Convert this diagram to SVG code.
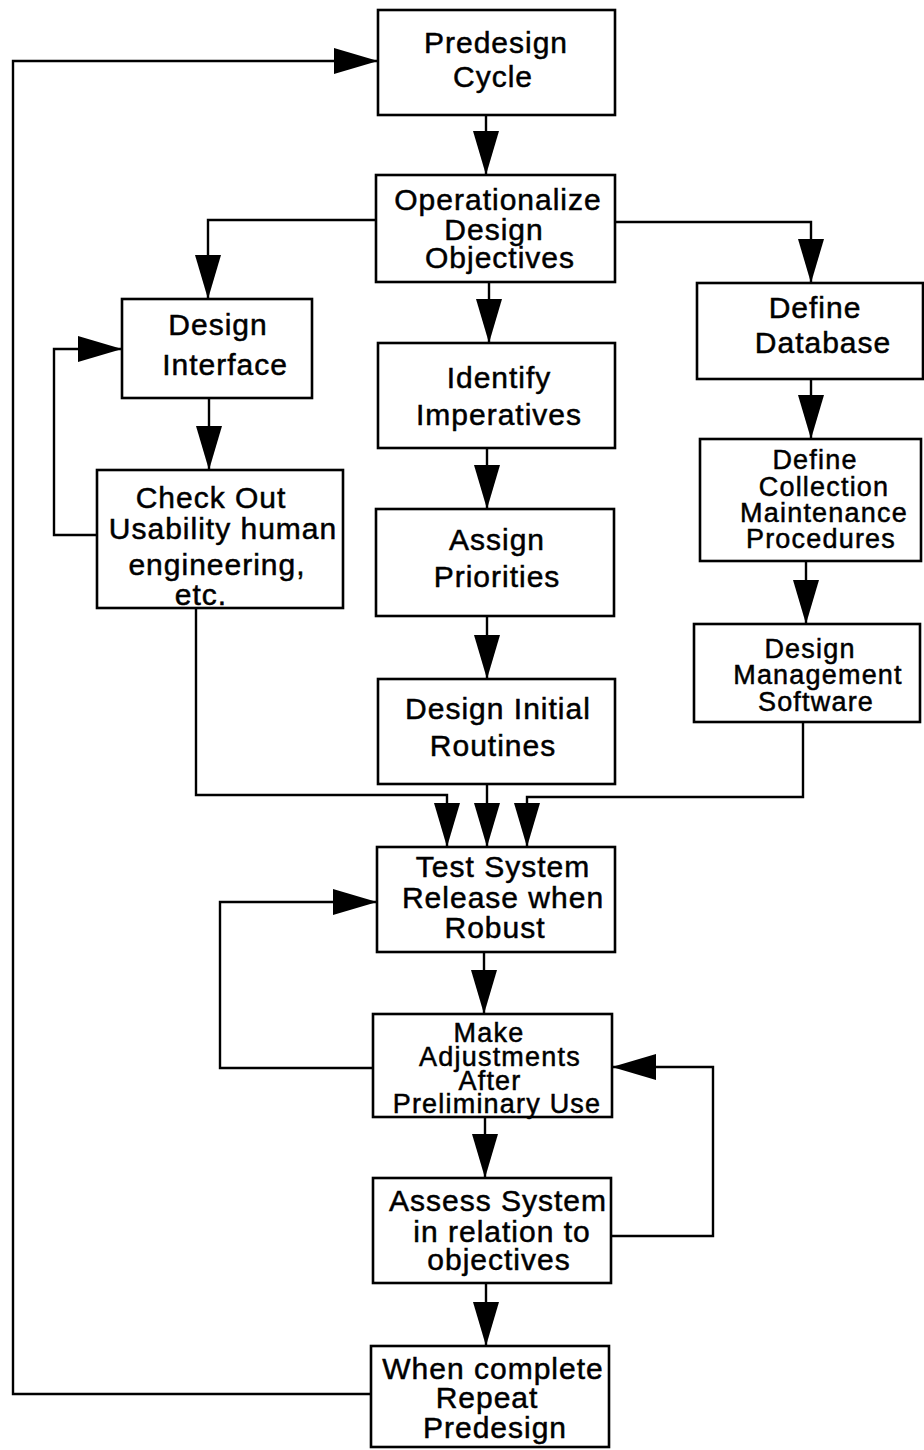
<svg xmlns="http://www.w3.org/2000/svg" width="924" height="1450" viewBox="0 0 924 1450">
  <style>
    .box { fill: #fff; stroke: #000; stroke-width: 2.6; }
    .edge { fill: none; stroke: #000; stroke-width: 2.4; }
    text { font-family: "Liberation Sans", Arial, Helvetica, sans-serif; font-size: 30px; fill: #000; stroke: #000; stroke-width: 0.5px; text-anchor: middle; letter-spacing: 1px; }
    .tight { font-size: 27px; letter-spacing: 1.2px; }
  </style>
  <defs>
    <marker id="head" markerUnits="userSpaceOnUse" markerWidth="46" markerHeight="28" refX="44" refY="13" orient="auto" overflow="visible">
      <path d="M0,0 L44,13 L0,26 Z" fill="#000"/>
    </marker>
  </defs>

  <rect width="924" height="1450" fill="#fff"/>

  <!-- connectors -->
  <g id="connectors">
    <path class="edge" d="M371,1394 H13 V61 H378" marker-end="url(#head)"/>
    <path class="edge" d="M486,115 V175" marker-end="url(#head)"/>
    <path class="edge" d="M376,220 H208 V299" marker-end="url(#head)"/>
    <path class="edge" d="M615,222 H811 V283" marker-end="url(#head)"/>
    <path class="edge" d="M489,282 V343" marker-end="url(#head)"/>
    <path class="edge" d="M209,398 V470" marker-end="url(#head)"/>
    <path class="edge" d="M97,535 H54 V349 H122" marker-end="url(#head)"/>
    <path class="edge" d="M487,448 V509" marker-end="url(#head)"/>
    <path class="edge" d="M487,616 V679" marker-end="url(#head)"/>
    <path class="edge" d="M811,379 V439" marker-end="url(#head)"/>
    <path class="edge" d="M806,561 V624" marker-end="url(#head)"/>
    <path class="edge" d="M196,608 V795 H447 V847" marker-end="url(#head)"/>
    <path class="edge" d="M487,784 V847" marker-end="url(#head)"/>
    <path class="edge" d="M803,722 V797 H527 V847" marker-end="url(#head)"/>
    <path class="edge" d="M373,1068 H220 V902 H377" marker-end="url(#head)"/>
    <path class="edge" d="M484,952 V1014" marker-end="url(#head)"/>
    <path class="edge" d="M611,1236 H713 V1067 H612" marker-end="url(#head)"/>
    <path class="edge" d="M485,1117 V1178" marker-end="url(#head)"/>
    <path class="edge" d="M486,1283 V1346" marker-end="url(#head)"/>
  </g>

  <!-- nodes -->
  <g id="predesign-cycle">
    <rect class="box" x="378" y="10" width="237" height="105"/>
    <text x="496" y="53">Predesign</text>
    <text x="493" y="87">Cycle</text>
  </g>

  <g id="operationalize">
    <rect class="box" x="376" y="175" width="239" height="107"/>
    <text x="498" y="210">Operationalize</text>
    <text x="494" y="240">Design</text>
    <text x="500" y="268">Objectives</text>
  </g>

  <g id="design-interface">
    <rect class="box" x="122" y="299" width="190" height="99"/>
    <text x="218" y="335">Design</text>
    <text x="225" y="375">Interface</text>
  </g>

  <g id="check-out">
    <rect class="box" x="97" y="470" width="246" height="138"/>
    <text x="211" y="508">Check Out</text>
    <text x="223" y="539">Usability human</text>
    <text x="217" y="575">engineering,</text>
    <text x="201" y="605">etc.</text>
  </g>

  <g id="identify-imperatives">
    <rect class="box" x="378" y="343" width="237" height="105"/>
    <text x="499" y="388">Identify</text>
    <text x="499" y="425">Imperatives</text>
  </g>

  <g id="assign-priorities">
    <rect class="box" x="376" y="509" width="238" height="107"/>
    <text x="497" y="550">Assign</text>
    <text x="497" y="587">Priorities</text>
  </g>

  <g id="design-initial-routines">
    <rect class="box" x="378" y="679" width="237" height="105"/>
    <text x="498" y="719">Design Initial</text>
    <text x="493" y="756">Routines</text>
  </g>

  <g id="define-database">
    <rect class="box" x="697" y="283" width="226" height="96"/>
    <text x="815" y="318">Define</text>
    <text x="823" y="353">Database</text>
  </g>

  <g id="define-collection">
    <rect class="box" x="700" y="439" width="221" height="122"/>
    <text class="tight" x="815" y="469">Define</text>
    <text class="tight" x="824" y="496">Collection</text>
    <text class="tight" x="824" y="522">Maintenance</text>
    <text class="tight" x="821" y="548">Procedures</text>
  </g>

  <g id="design-management-software">
    <rect class="box" x="694" y="624" width="226" height="98"/>
    <text class="tight" x="810" y="658">Design</text>
    <text class="tight" x="818" y="684">Management</text>
    <text class="tight" x="816" y="711">Software</text>
  </g>

  <g id="test-system">
    <rect class="box" x="377" y="847" width="238" height="105"/>
    <text x="503" y="877">Test System</text>
    <text x="503" y="908">Release when</text>
    <text x="495" y="938">Robust</text>
  </g>

  <g id="make-adjustments">
    <rect class="box" x="373" y="1014" width="239" height="103"/>
    <text class="tight" x="489" y="1042">Make</text>
    <text class="tight" x="500" y="1066">Adjustments</text>
    <text class="tight" x="490" y="1090">After</text>
    <text class="tight" x="497" y="1113">Preliminary Use</text>
  </g>

  <g id="assess-system">
    <rect class="box" x="373" y="1178" width="238" height="105"/>
    <text x="498" y="1211">Assess System</text>
    <text x="502" y="1242">in relation to</text>
    <text x="499" y="1270">objectives</text>
  </g>

  <g id="repeat-predesign">
    <rect class="box" x="371" y="1346" width="238" height="101"/>
    <text x="493" y="1379">When complete</text>
    <text x="487" y="1408">Repeat</text>
    <text x="495" y="1438">Predesign</text>
  </g>
</svg>
